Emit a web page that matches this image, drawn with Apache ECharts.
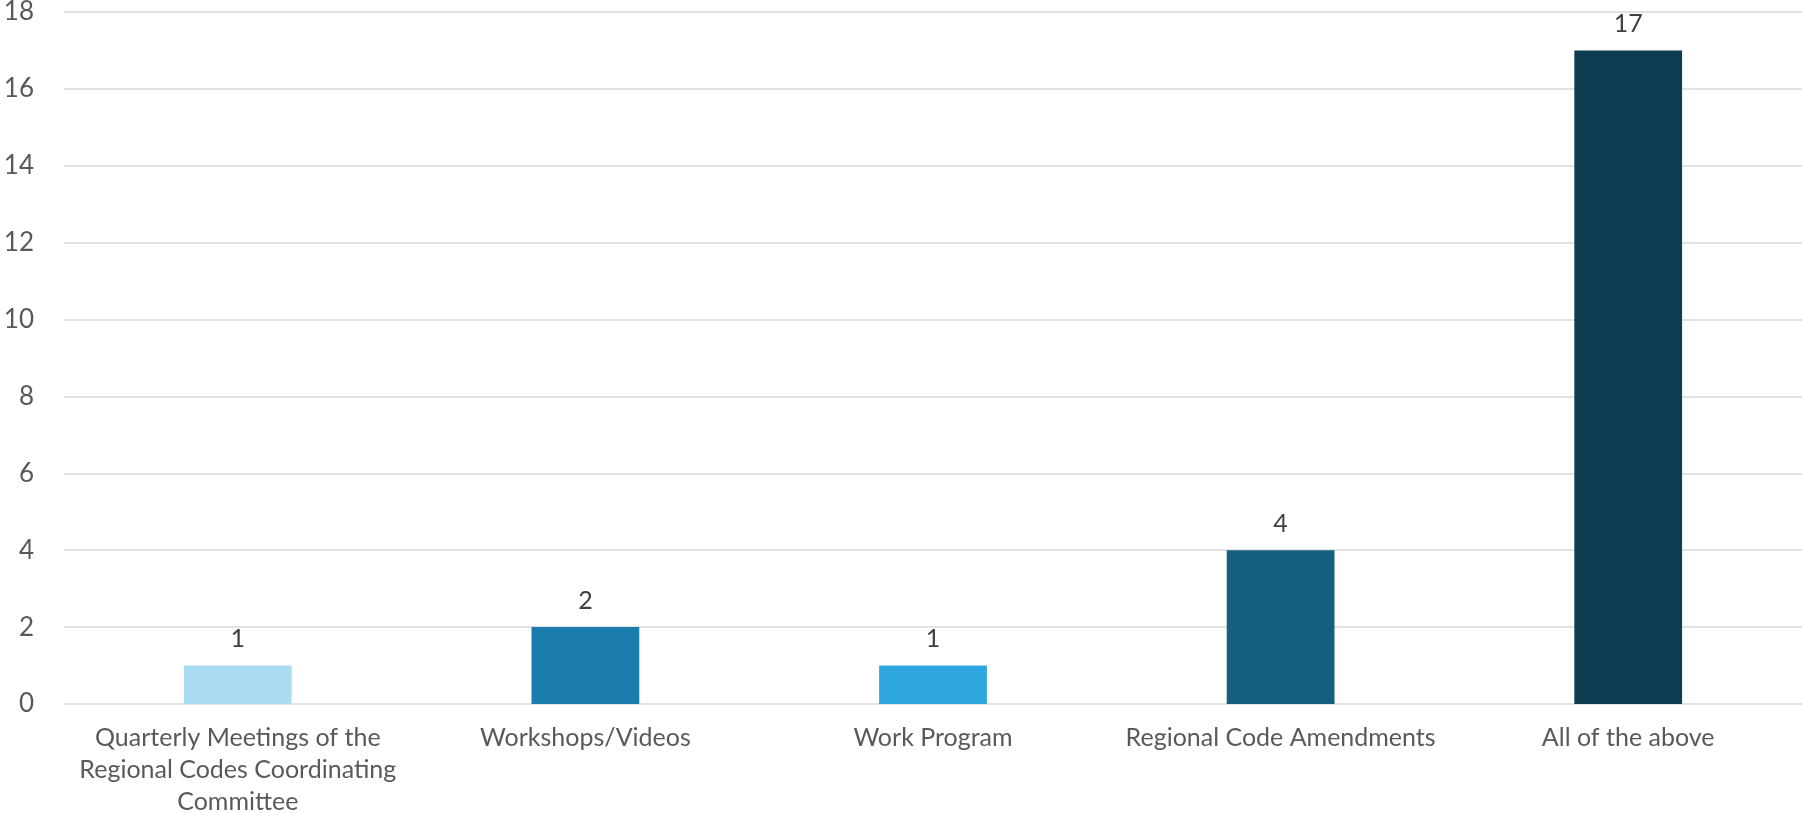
<!DOCTYPE html>
<html>
<head>
<meta charset="utf-8">
<script src="https://cdn.jsdelivr.net/npm/echarts@6/dist/echarts.min.js"></script>
<style>
  html, body { margin: 0; padding: 0; background: #fff; }
  #chart { width: 1802px; height: 813px; }
</style>
</head>
<body>
<div id="chart"></div>
<script>
// 数据
const categories = [
  'Quarterly Meetings of the\nRegional Codes Coordinating\nCommittee',
  'Workshops/Videos',
  'Work Program',
  'Regional Code Amendments',
  'All of the above'
];
const values = [1, 2, 1, 4, 17];
const barColors = ['#a9dcf0', '#1a7dad', '#2ea8df', '#155f80', '#0e3c51'];

const chart = echarts.init(document.getElementById('chart'));
const fontFamily = 'Lato, "Open Sans", sans-serif';

chart.setOption({
  animation: false,
  grid: { left: 64, right: 0, top: 12, bottom: 109, containLabel: false, outerBoundsMode: 'none' },
  xAxis: {
    type: 'category',
    data: categories,
    axisLine: { show: false },
    axisTick: { show: false },
    axisLabel: {
      color: '#595959',
      fontSize: 25,
      fontFamily,
      lineHeight: 32,
      margin: 18,
      interval: 0,
    },
  },
  yAxis: {
    type: 'value',
    min: 0,
    max: 18,
    interval: 2,
    axisLine: { show: false },
    axisTick: { show: false },
    axisLabel: { color: '#595959', fontSize: 26, fontFamily, margin: 30 },
    splitLine: { lineStyle: { color: '#d9d9d9', width: 1.5 } },
  },
  series: [{
    type: 'bar',
    barWidth: '31%',
    data: values.map((v, i) => ({ value: v, itemStyle: { color: barColors[i] } })),
    label: {
      show: true,
      position: 'top',
      distance: 14,
      color: '#404040',
      fontSize: 25,
      fontFamily,
    },
  }],
});

window.addEventListener('resize', () => chart.resize());
</script>
</body>
</html>
